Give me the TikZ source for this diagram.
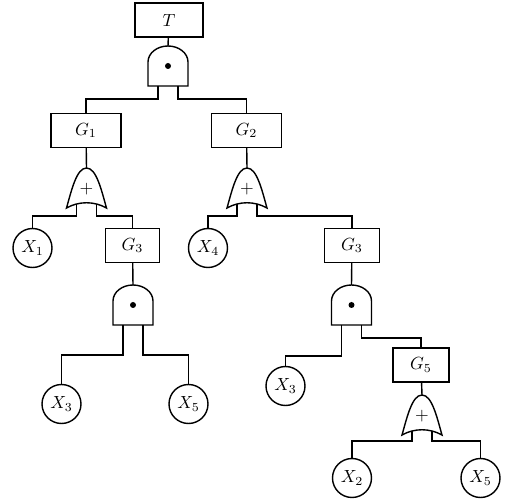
\documentclass[tikz,border=0pt]{standalone}

\tikzset{
    evento/.style={draw, minimum height=0.68cm, inner sep=2pt},
    base/.style={draw, circle, minimum size=0.78cm, inner sep=0pt},
    % porta AND (e)
    portaand/.pic={
        \draw (-0.4,-0.8) -- (-0.4,-0.32) arc[start angle=180, end angle=0, x radius=0.4, y radius=0.32] -- (0.4,-0.8) -- cycle;
        \fill (0,-0.4) circle (0.06);
        \coordinate (-in) at (0,0);
        \coordinate (-l) at (-0.2,-0.8);
        \coordinate (-r) at (0.2,-0.8);
    },
    % porta OR (o)
    portaor/.pic={
        \draw (-0.4,-0.8) .. controls (-0.3,-0.45) and (-0.2,0) .. (0,0)
            .. controls (0.2,0) and (0.3,-0.45) .. (0.4,-0.8)
            .. controls (0.15,-0.66) and (-0.15,-0.66) .. cycle;
        \node at (0,-0.42) {$+$};
        \coordinate (-in) at (0,0);
        \coordinate (-l) at (-0.2,-0.72);
        \coordinate (-r) at (0.2,-0.72);
    }
}

\begin{document}
\begin{tikzpicture}[line width=0.8pt]
        \useasboundingbox (0,0) rectangle (10.18,10.04);

        % Evento di vertice
        \node[evento, minimum width=1.36cm] (T) at (3.38,9.64) {$T$};
        \pic (a0) at (3.36,9.12) {portaand};
        \draw (T) -- (a0-in);

        % Eventi intermedi
        \node[evento, minimum width=1.4cm] (G1) at (1.72,7.43) {$G_1$};
        \node[evento, minimum width=1.4cm] (G2) at (4.93,7.43) {$G_2$};
        \draw (a0-l) -- ++(0,-0.26) -| (G1);
        \draw (a0-r) -- ++(0,-0.26) -| (G2);

        \pic (o1) at (1.73,6.68) {portaor};
        \pic (o2) at (4.94,6.68) {portaor};
        \draw (G1) -- (o1-in);
        \draw (G2) -- (o2-in);

        \node[base] (X1) at (0.65,5.08) {$X_1$};
        \node[evento, minimum width=1.08cm] (G3a) at (2.65,5.13) {$G_3$};
        \node[base] (X4) at (4.16,5.08) {$X_4$};
        \node[evento, minimum width=1.1cm] (G3b) at (7.04,5.13) {$G_3$};
        \draw (o1-l) -- ++(0,-0.24) -| (X1);
        \draw (o1-r) -- ++(0,-0.24) -| (G3a);
        \draw (o2-l) -- ++(0,-0.24) -| (X4);
        \draw (o2-r) -- ++(0,-0.24) -| (G3b);

        % Ramo sinistro
        \pic (a1) at (2.66,4.34) {portaand};
        \draw (G3a) -- (a1-in);
        \node[base] (X3a) at (1.23,1.96) {$X_3$};
        \node[base] (X5a) at (3.77,1.96) {$X_5$};
        \draw (a1-l) -- ++(0,-0.6) -| (X3a);
        \draw (a1-r) -- ++(0,-0.6) -| (X5a);

        % Ramo destro
        \pic (a2) at (7.03,4.34) {portaand};
        \draw (G3b) -- (a2-in);
        \node[base] (X3b) at (5.71,2.32) {$X_3$};
        \node[evento, minimum width=1.12cm] (G5) at (8.42,2.74) {$G_5$};
        \draw (a2-l) -- ++(0,-0.62) -| (X3b);
        \draw (a2-r) -- ++(0,-0.26) -| (G5);

        \pic (o3) at (8.44,2.14) {portaor};
        \draw (G5) -- (o3-in);
        \node[base] (X2) at (7.04,0.48) {$X_2$};
        \node[base] (X5b) at (9.61,0.48) {$X_5$};
        \draw (o3-l) -- ++(0,-0.2) -| (X2);
        \draw (o3-r) -- ++(0,-0.2) -| (X5b);
    \end{tikzpicture}
\end{document}
